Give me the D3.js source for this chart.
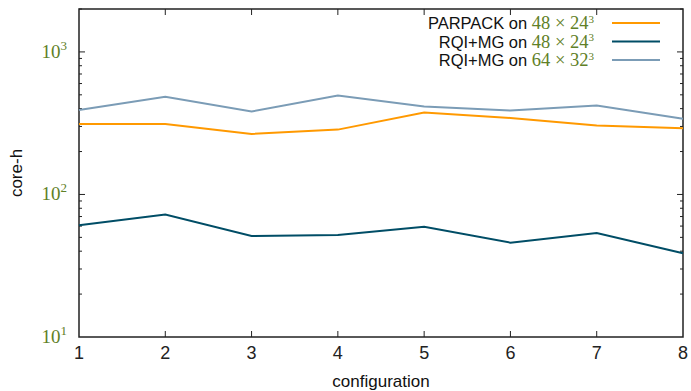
<!DOCTYPE html>
<html><head><meta charset="utf-8">
<script src="https://cdn.jsdelivr.net/npm/d3@7"></script>
<style>body{margin:0;background:#fff}svg{display:block}</style>
</head><body>
<script>
const configs = [1,2,3,4,5,6,7,8];
const parpack48 = [312, 312, 266, 285, 376, 344, 305, 291];
const rqimg48 = [60.7, 72.4, 51.1, 51.9, 59.4, 45.9, 53.6, 38.7];
const rqimg64 = [391, 484, 382, 495, 414, 388, 421, 340];
const seriesNames = ["PARPACK", "RQI+MG", "RQI+MG"];
const seriesGrids = [["48","24"],["48","24"],["64","32"]];
const seriesColors = ["#ff9900", "#004d66", "#7b9cb6"];
const yTickExps = [1,2,3];

const W=691,H=391, L=79, R=683, T=9, B=337;
const green = "#5f8027";
const svg = d3.select("body").append("svg").attr("width",W).attr("height",H);
const x = d3.scaleLinear().domain([1,8]).range([L,R]);
const y = d3.scaleLog().domain([10,2000]).range([B,T]);

svg.append("rect").attr("x",L).attr("y",T).attr("width",R-L).attr("height",B-T)
  .attr("fill","none").attr("stroke","#222").attr("stroke-width",1.5);

const xt = configs.slice(1,-1);
svg.selectAll(".xtb").data(xt).join("line").attr("x1",d=>x(d)).attr("x2",d=>x(d))
  .attr("y1",B).attr("y2",B-6).attr("stroke","#222");
svg.selectAll(".xtt").data(xt).join("line").attr("x1",d=>x(d)).attr("x2",d=>x(d))
  .attr("y1",T).attr("y2",T+6).attr("stroke","#222");
svg.selectAll(".xl").data(configs).join("text").attr("x",d=>x(d)).attr("y",B+22)
  .attr("text-anchor","middle").attr("font-family","Liberation Sans, sans-serif")
  .attr("font-size",18).attr("fill","#222").text(d=>d);

const minors=[];
for (let e=1;e<=3;e++) for (let m=2;m<=9;m++){const v=m*Math.pow(10,e); if(v<=2000) minors.push(v);}
const majors = yTickExps.map(e=>Math.pow(10,e)).filter(v=>v>10);
[[L,1],[R,-1]].forEach(([x0,dir])=>{
  svg.append("g").selectAll("line").data(majors).join("line")
    .attr("x1",x0).attr("x2",x0+dir*6).attr("y1",d=>y(d)).attr("y2",d=>y(d)).attr("stroke","#222");
  svg.append("g").selectAll("line").data(minors).join("line")
    .attr("x1",x0).attr("x2",x0+dir*3).attr("y1",d=>y(d)).attr("y2",d=>y(d)).attr("stroke","#222");
});
const yl = svg.selectAll(".yl").data(yTickExps).join("text")
  .attr("x",L-12).attr("y",d=>y(Math.pow(10,d))+6).attr("text-anchor","end")
  .attr("font-family","Liberation Serif, serif").attr("font-size",19).attr("fill",green);
yl.append("tspan").text("10");
yl.append("tspan").attr("dy",-8).attr("font-size",13).text(d=>d);

svg.append("text").attr("transform",`translate(22,${(T+B)/2}) rotate(-90)`).attr("text-anchor","middle")
  .attr("font-family","Liberation Sans, sans-serif").attr("font-size",17).attr("fill","#111").text("core-h");
svg.append("text").attr("x",(L+R)/2).attr("y",387).attr("text-anchor","middle")
  .attr("font-family","Liberation Sans, sans-serif").attr("font-size",17).attr("fill","#111").text("configuration");

const data = [parpack48, rqimg48, rqimg64];
const line = d3.line().x((d,i)=>x(configs[i])).y(d=>y(d));
data.forEach((s,i)=>{
  svg.append("path").datum(s).attr("d",line).attr("fill","none")
    .attr("stroke",seriesColors[i]).attr("stroke-width",2);
});

const ly=[23,41.5,60];
data.forEach((s,i)=>{
  const t = svg.append("text").attr("x",594).attr("y",ly[i]+6).attr("text-anchor","end")
    .attr("font-size",16.5);
  t.append("tspan").attr("font-family","Liberation Sans, sans-serif").attr("fill","#111").text(seriesNames[i]+" on ");
  t.append("tspan").attr("font-family","Liberation Serif, serif").attr("fill",green).attr("font-size",18.5)
    .text(seriesGrids[i][0]+" × "+seriesGrids[i][1]);
  t.append("tspan").attr("font-family","Liberation Serif, serif").attr("fill",green).attr("font-size",11)
    .attr("dy",-6.5).text("3");
  svg.append("line").attr("x1",612).attr("x2",660).attr("y1",ly[i]).attr("y2",ly[i])
    .attr("stroke",seriesColors[i]).attr("stroke-width",2);
});
</script>
</body></html>
